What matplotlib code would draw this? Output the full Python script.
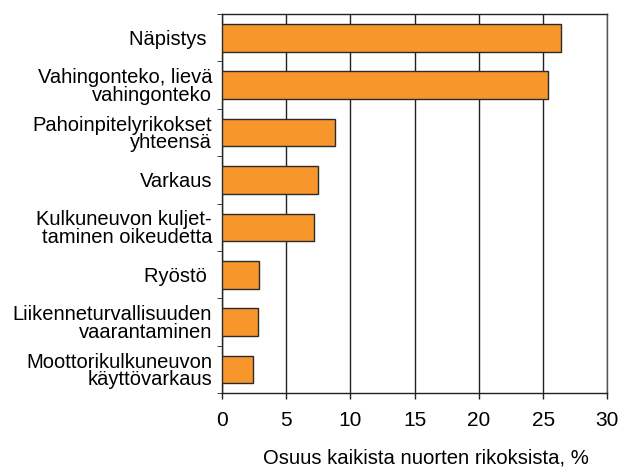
import matplotlib.pyplot as plt
import numpy as np

plt.rcParams["font.family"] = ["Liberation Sans", "DejaVu Sans"]

labels = [
    "Näpistys ",
    "Vahingonteko, lievä\nvahingonteko",
    "Pahoinpitelyrikokset\nyhteensä",
    "Varkaus",
    "Kulkuneuvon kuljet-\ntaminen oikeudetta",
    "Ryöstö ",
    "Liikenneturvallisuuden\nvaarantaminen",
    "Moottorikulkuneuvon\nkäyttövarkaus",
]
values = [26.4, 25.4, 8.8, 7.5, 7.2, 2.9, 2.8, 2.4]

fig = plt.figure(figsize=(6.32, 4.69), dpi=100)
ax = fig.add_axes([0.351, 0.1614, 0.610, 0.8086])

y = np.arange(len(labels))
ax.barh(y, values, height=0.58, color="#F7962B", edgecolor="#2a2a2a",
        linewidth=1.0, zorder=3)

ax.set_xlim(0, 30)
ax.set_ylim(len(labels) - 0.5, -0.5)
ax.set_xticks(np.arange(0, 31, 5))
ax.xaxis.grid(True, color="#222222", linewidth=1.0, zorder=1)

ax.set_yticks(y)
ax.set_yticklabels(labels, fontsize=14.5, linespacing=0.92)
ax.set_yticks(np.arange(-0.5, len(labels)), minor=True)
ax.tick_params(axis="y", which="major", length=0, pad=7)
ax.tick_params(axis="y", which="minor", length=3.5, direction="out", color="#222222")
ax.tick_params(axis="x", length=4, width=1, color="#222222", labelsize=15, pad=9)

for side in ["left", "top", "bottom"]:
    ax.spines[side].set_color("#222222")
    ax.spines[side].set_linewidth(1.0)
ax.spines["right"].set_color("#555555")
ax.spines["right"].set_linewidth(1.0)

fig.text(0.674, 0.0235, "Osuus kaikista nuorten rikoksista, %",
         fontsize=14.6, ha="center", va="center")

fig.savefig("out.png", dpi=100)
